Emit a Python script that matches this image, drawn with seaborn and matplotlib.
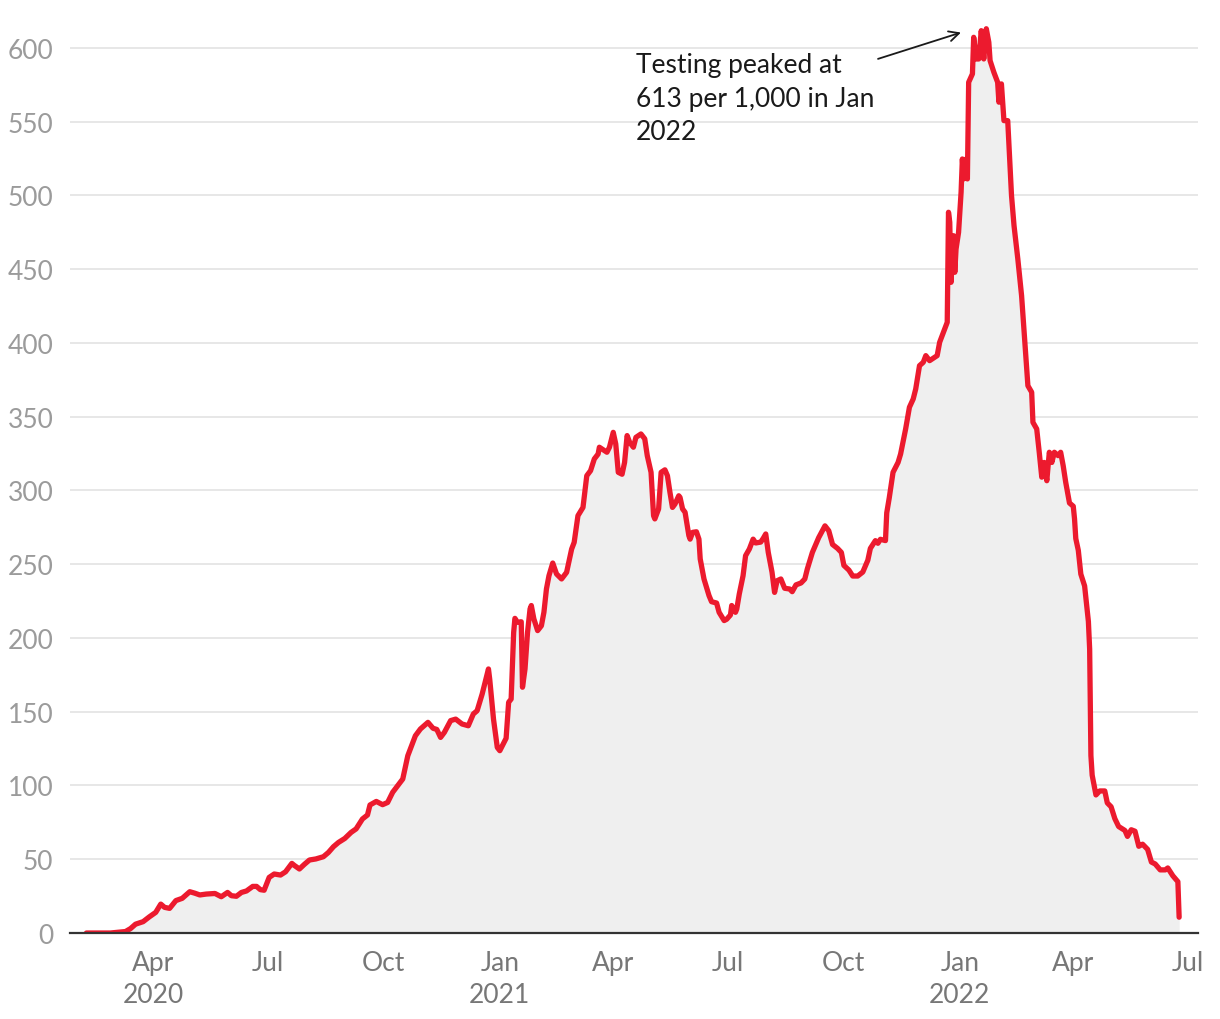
import pandas as pd
import matplotlib.pyplot as plt
import seaborn as sns


# 1. Data: tests per 1,000 people
dates_2020 = ["02-08", "02-27", "03-10", "03-14", "03-18", "03-24", "03-29", "04-03", "04-07", "04-10",
              "04-14", "04-19", "04-24", "04-30", "05-04", "05-08", "05-13", "05-20", "05-25", "05-30",
              "06-02", "06-06", "06-10", "06-14", "06-19", "06-22", "06-25", "06-28", "07-02", "07-06",
              "07-11", "07-15", "07-20", "07-22", "07-26", "07-30", "08-03", "08-08", "08-14", "08-18",
              "08-22", "08-26", "08-31", "09-05", "09-09", "09-14", "09-18", "09-20", "09-25", "09-30",
              "10-04", "10-08", "10-12", "10-16", "10-20", "10-26", "10-30", "11-05", "11-09", "11-12",
              "11-15", "11-18", "11-23", "11-27", "12-02", "12-07", "12-11", "12-14", "12-18", "12-20",
              "12-23", "12-24", "12-27", "12-30"]
values_2020 = [0, 0, 1, 3, 6, 7.7, 11, 14, 19.6, 17.4,
               16.7, 22, 23.5, 28, 27, 25.8, 26.4, 26.8, 24.6, 27.5,
               25.3, 24.9, 27.5, 28.5, 31.6, 31.6, 29.4, 29, 37.7, 40,
               39.3, 41.5, 47.2, 45.8, 43.4, 46.6, 49.5, 50.2, 51.7, 54.6,
               58.5, 61.4, 64.1, 68.2, 70.6, 77.3, 80, 86.8, 89.2, 87,
               88.5, 95.4, 99.9, 104.4, 120.2, 133.7, 138.3, 142.8, 138.8, 138,
               132.6, 136, 144, 145, 141.7, 140.5, 148.5, 150.7, 162, 168.8,
               179, 172, 145, 125.8]

dates_2021 = ["01-01", "01-05", "01-06", "01-08", "01-10", "01-12", "01-13", "01-15", "01-18", "01-19",
              "01-21", "01-23", "01-25", "01-26", "01-28", "01-31", "02-03", "02-05", "02-07", "02-09",
              "02-12", "02-15", "02-19", "02-23", "02-27", "03-01", "03-04", "03-08", "03-11", "03-14",
              "03-17", "03-20", "03-21", "03-27", "03-29", "04-01", "04-03", "04-05", "04-08", "04-10",
              "04-12", "04-14", "04-17", "04-19", "04-23", "04-26", "04-28", "05-01", "05-03", "05-04",
              "05-07", "05-09", "05-12", "05-14", "05-16", "05-18", "05-20", "05-23", "05-24", "05-26",
              "05-28", "05-31", "06-01", "06-03", "06-06", "06-08", "06-09", "06-12", "06-16", "06-18",
              "06-22", "06-24", "06-28", "06-30", "07-03", "07-04", "07-07", "07-08", "07-10", "07-13",
              "07-15", "07-18", "07-21", "07-23", "07-27", "07-29", "07-31", "08-02", "08-05", "08-07",
              "08-09", "08-12", "08-15", "08-19", "08-21", "08-24", "08-28", "08-31", "09-02", "09-06",
              "09-11", "09-16", "09-19", "09-22", "09-26", "09-29", "10-01", "10-05", "10-08", "10-12",
              "10-16", "10-20", "10-22", "10-26", "10-28", "10-30", "11-03", "11-04", "11-06", "11-09",
              "11-13", "11-15", "11-19", "11-22", "11-25", "11-27", "11-30", "12-03", "12-05", "12-08",
              "12-12", "12-14", "12-16", "12-19", "12-22", "12-23", "12-24", "12-25", "12-27", "12-28",
              "12-29", "12-31"]
values_2021 = [123.6, 130.4, 132, 156.4, 158.6, 203.8, 213.3, 210.6, 211, 166.6,
               179, 203.8, 219.7, 222, 213, 205, 208.3, 217.4, 233.2, 242.2,
               250.8, 243.4, 240, 244.5, 260.3, 264.8, 282.9, 288.5, 310, 313.4,
               321.4, 324.7, 329.3, 325.9, 329.3, 339.4, 331.5, 312.3, 311, 319,
               337.2, 332.7, 329.3, 336, 338.3, 335, 323.6, 312.3, 282.9, 280.7,
               287.5, 312.3, 314, 310, 298.7, 288.5, 290.8, 296.4, 295.3, 287.5,
               285.2, 269.4, 267, 271.6, 272, 267, 253.6, 240, 228.7, 224.6,
               223.7, 217.4, 211.8, 212.7, 215.6, 222, 217.4, 219.6, 229.8, 242.2,
               255.8, 260.3, 267, 264.4, 265, 267.5, 270.5, 258, 244.5, 230.9,
               238.8, 240, 233.7, 233.2, 231.4, 236, 237.3, 240, 246.8, 258,
               268, 276, 272.7, 263.4, 260.7, 258, 249.2, 246, 242, 242,
               244.7, 252.7, 260.7, 266, 264.2, 266.9, 266, 284.8, 295, 312.3,
               319, 324.7, 341.7, 356.4, 362, 368.8, 384.6, 386.9, 391.4, 388,
               390.3, 391.4, 400.5, 407.2, 414, 488.6, 481.8, 441.1, 472.7, 447.9,
               463.7, 475]

dates_2022 = ["01-02", "01-03", "01-04", "01-06", "01-07", "01-08", "01-11", "01-12", "01-14", "01-16",
              "01-18", "01-20", "01-22", "01-24", "01-25", "01-28", "01-31", "02-01", "02-03", "02-04",
              "02-05", "02-08", "02-11", "02-13", "02-16", "02-19", "02-21", "02-24", "02-27", "02-28",
              "03-03", "03-05", "03-07", "03-09", "03-11", "03-13", "03-15", "03-17", "03-20", "03-22",
              "03-24", "03-26", "03-29", "04-01", "04-02", "04-03", "04-05", "04-07", "04-10", "04-13",
              "04-14", "04-15", "04-16", "04-19", "04-22", "04-26", "04-28", "05-01", "05-04", "05-07",
              "05-12", "05-14", "05-17", "05-20", "05-23", "05-26", "05-30", "06-02", "06-05", "06-09",
              "06-13", "06-15", "06-19", "06-23", "06-24"]
values_2022 = [502.2, 524.7, 511.2, 524.7, 511.2, 576.7, 582.4, 607.2, 592.5, 592.5,
               611.7, 592.5, 613, 603.8, 591.4, 583.5, 576.7, 563.2, 575.6, 563.2,
               550.7, 550.7, 500, 479.5, 457, 432, 407.2, 371, 366.6, 346.2,
               341.7, 325.9, 309, 319, 306.6, 325.9, 319, 325.9, 323.6, 325.9,
               316.8, 305.6, 291.5, 289.3, 280.8, 267.4, 259.4, 243.3, 235.3, 211.2,
               192.5, 120.3, 107, 93.6, 96.3, 96.3, 88.2, 85.6, 77.5, 72.2,
               69.5, 65.5, 70, 69, 58.8, 60.2, 56.7, 48.1, 46.8, 42.8,
               42.8, 44.1, 38.8, 34.8, 10.7]

tick_dates = ["2020-04-01", "2020-07-01", "2020-10-01", "2021-01-01", "2021-04-01",
              "2021-07-01", "2021-10-01", "2022-01-01", "2022-04-01", "2022-07-01"]
tick_labels = ["Apr\n2020", "Jul", "Oct", "Jan\n2021", "Apr", "Jul", "Oct", "Jan\n2022", "Apr", "Jul"]
y_ticks = list(range(0, 601, 50))
note = "Testing peaked at\n613 per 1,000 in Jan\n2022"

# 2. Build the frame
df = pd.DataFrame({
    'date': pd.to_datetime(["2020-" + d for d in dates_2020]
                           + ["2021-" + d for d in dates_2021]
                           + ["2022-" + d for d in dates_2022]),
    'value': values_2020 + values_2021 + values_2022,
})

# 3. Draw
sns.set_theme(style='white')
plt.rcParams['font.family'] = ['Lato', 'DejaVu Sans']

fig = plt.figure(figsize=(12.2, 10.2), dpi=100)
ax = fig.add_axes([0.0574, 0.0843, 0.9246, 0.9039])

ax.fill_between(df['date'], df['value'], 0, color='#efefef', linewidth=0, zorder=1)
sns.lineplot(data=df, x='date', y='value', ax=ax, color='#ec1a2e', linewidth=3.8, zorder=3)

ax.set_xlim(pd.Timestamp('2020-01-26'), pd.Timestamp('2022-07-09'))
ax.set_ylim(0, 625)

ax.set_yticks(y_ticks)
ax.set_yticklabels([str(v) for v in y_ticks])
ax.set_xticks(pd.to_datetime(tick_dates))
ax.set_xticklabels(tick_labels)
ax.tick_params(axis='y', length=0, pad=12, labelsize=19, labelcolor='#9b9b9b')
ax.tick_params(axis='x', length=0, pad=12, labelsize=19, labelcolor='#777777')
for lbl in ax.get_xticklabels():
    lbl.set_linespacing(1.38)

ax.grid(axis='y', color='#e3e3e3', linewidth=1.2, zorder=0)
ax.grid(axis='x', visible=False)
for side in ['top', 'right', 'left']:
    ax.spines[side].set_visible(False)
ax.spines['bottom'].set_color('#333333')
ax.spines['bottom'].set_linewidth(1.6)
ax.spines['bottom'].set_zorder(4)
ax.set_xlabel('')
ax.set_ylabel('')

# Annotation
ax.text(pd.Timestamp('2021-04-19'), 597, note, ha='left', va='top', fontsize=19,
        color='#1a1a1a', linespacing=1.42)
ax.annotate('', xy=(pd.Timestamp('2022-01-04'), 611), xytext=(pd.Timestamp('2021-10-26'), 592),
            arrowprops=dict(arrowstyle='->', color='#1a1a1a', lw=1.3, mutation_scale=18))

fig.savefig('out.png', dpi=100)
